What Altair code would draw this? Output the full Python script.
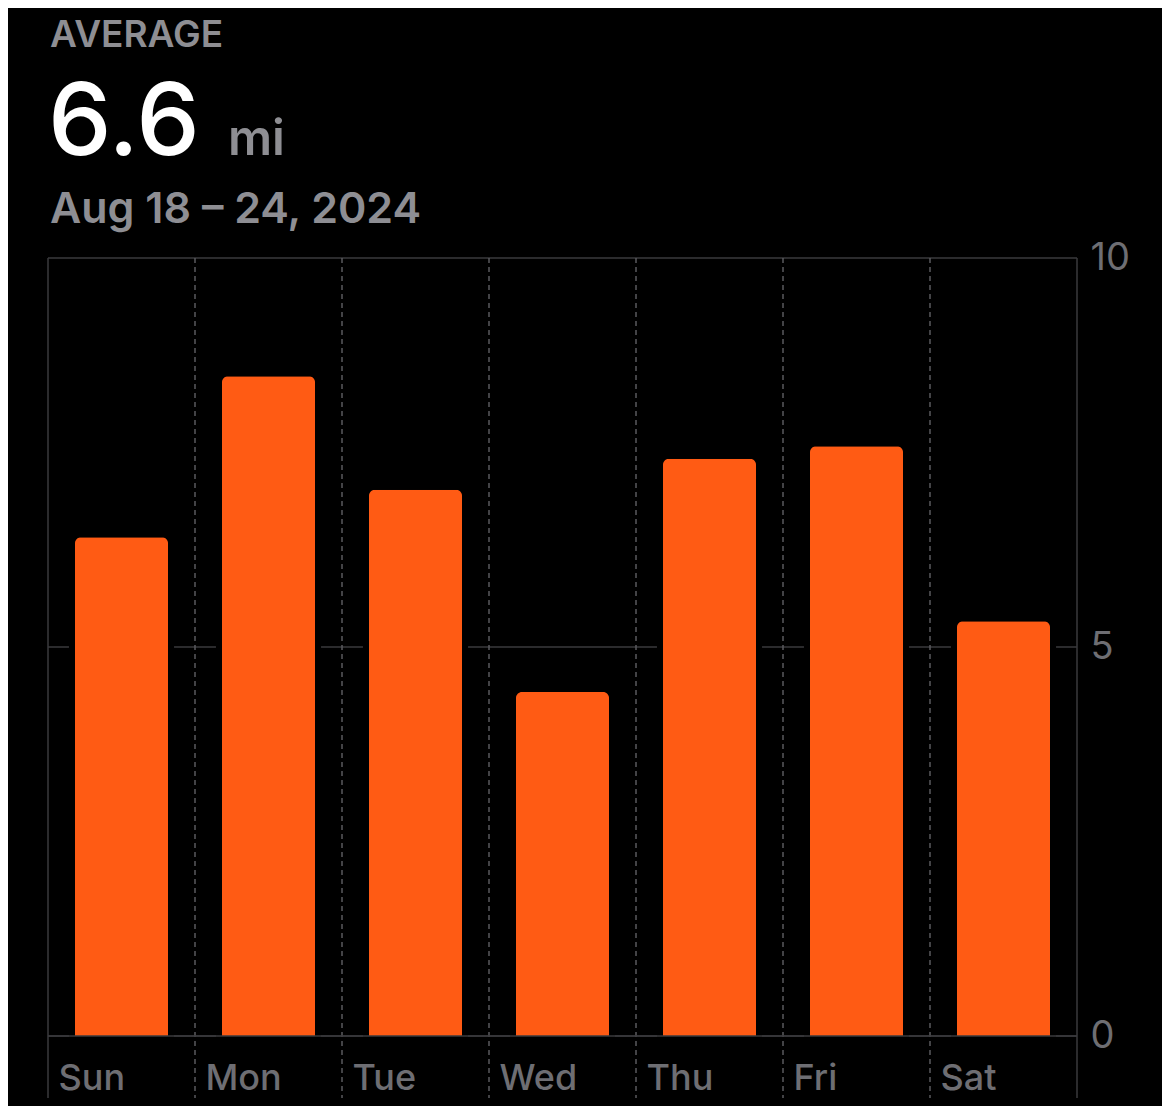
import altair as alt
import pandas as pd

days = ["Sun", "Mon", "Tue", "Wed", "Thu", "Fri", "Sat"]
miles = [6.41, 8.48, 7.02, 4.42, 7.42, 7.58, 5.33]
y_ticks = [0, 5, 10]
dashed_pos = [1, 2, 3, 4, 5, 6]
solid_pos = [0, 7]

df = pd.DataFrame({"day": days, "miles": miles})
dash_df = pd.DataFrame({"pos": dashed_pos})
solid_df = pd.DataFrame({"pos": solid_pos})

W, H = 1029, 778
FONT = "Inter"
BAR = "#FF5B14"
GRID = "#3a3a3c"
LABEL = "#6e6e73"
TITLE_GRAY = "#8e8e93"

x_scale = alt.Scale(paddingInner=0.367, paddingOuter=0.1835)
x_axis = alt.Axis(title=None, labelAlign="left", labelOffset=-63, labelAngle=0,
                  labelBaseline="alphabetic", labelPadding=53, ticks=False, domain=False,
                  grid=False, labelFont=FONT, labelFontSize=36, labelColor=LABEL,
                  labelFontWeight=500)
y_scale = alt.Scale(domain=[0, 10], nice=False)
y_axis = alt.Axis(orient="right", values=y_ticks, title=None, ticks=False, domain=False,
                  grid=False, labelPadding=13, labelFont=FONT, labelFontSize=38,
                  labelColor=LABEL, labelFontWeight=400)

base = alt.Chart(df)

# horizontal gridlines (drawn first, behind bars)
grid = alt.Chart(pd.DataFrame({"v": y_ticks})).mark_rule(color=GRID, strokeWidth=1.5).encode(
    y=alt.Y("v:Q", scale=y_scale, axis=y_axis)
)

halo = base.mark_bar(color="black", stroke="black", strokeWidth=12,
                     cornerRadiusTopLeft=6, cornerRadiusTopRight=6).encode(
    x=alt.X("day:N", sort=days, scale=x_scale, axis=None),
    y=alt.Y("miles:Q", scale=y_scale, axis=y_axis),
)
bars = base.mark_bar(color=BAR, cornerRadiusTopLeft=6, cornerRadiusTopRight=6).encode(
    x=alt.X("day:N", sort=days, scale=x_scale, axis=x_axis),
    y=alt.Y("miles:Q", scale=y_scale, axis=y_axis),
)

zero = alt.Chart(pd.DataFrame({"v": [0]})).mark_rule(color=GRID, strokeWidth=1.5).encode(
    y=alt.Y("v:Q", scale=y_scale, axis=y_axis)
)

pos_scale = alt.Scale(domain=[0, 7], nice=False, zero=False)
vdash = alt.Chart(dash_df).mark_rule(color="#5a5a5e", strokeWidth=1.5, strokeDash=[5, 4]).encode(
    x=alt.X("pos:Q", scale=pos_scale, axis=None),
    y=alt.value(0), y2=alt.value(H + 62),
)
vsolid = alt.Chart(solid_df).mark_rule(color=GRID, strokeWidth=1.5).encode(
    x=alt.X("pos:Q", scale=pos_scale, axis=None),
    y=alt.value(0), y2=alt.value(H + 62),
)

# header texts
t_avg = alt.Chart(pd.DataFrame({"t": ["AVERAGE"]})).mark_text(
    font=FONT, fontSize=37, fontWeight=600, color=TITLE_GRAY, align="left", baseline="alphabetic"
).encode(text="t:N", x=alt.value(2), y=alt.value(47 - 258))
t_val = alt.Chart(pd.DataFrame({"t": ["6.6"]})).mark_text(
    font=FONT, fontSize=101, fontWeight=500, color="white", align="left", baseline="alphabetic"
).encode(text="t:N", x=alt.value(0), y=alt.value(155 - 258))
t_unit = alt.Chart(pd.DataFrame({"t": ["mi"]})).mark_text(
    font=FONT, fontSize=49, fontWeight=600, color=TITLE_GRAY, align="left", baseline="alphabetic"
).encode(text="t:N", x=alt.value(228 - 48), y=alt.value(155 - 258))
t_date = alt.Chart(pd.DataFrame({"t": ["Aug 18 – 24, 2024"]})).mark_text(
    font=FONT, fontSize=43, fontWeight=600, color=TITLE_GRAY, align="left", baseline="alphabetic"
).encode(text="t:N", x=alt.value(2), y=alt.value(223 - 258))

chart = alt.layer(
    grid, vdash, vsolid, halo, bars, zero, t_avg, t_val, t_unit, t_date
).resolve_scale(x="independent").properties(
    width=W, height=H,
    autosize=alt.AutoSizeParams(type="none"),
    padding={"left": 40, "top": 250, "right": 85, "bottom": 70},
    background="black",
).configure_view(stroke=None)

chart.save("out.html", embed_options={"renderer": "svg", "actions": False})
